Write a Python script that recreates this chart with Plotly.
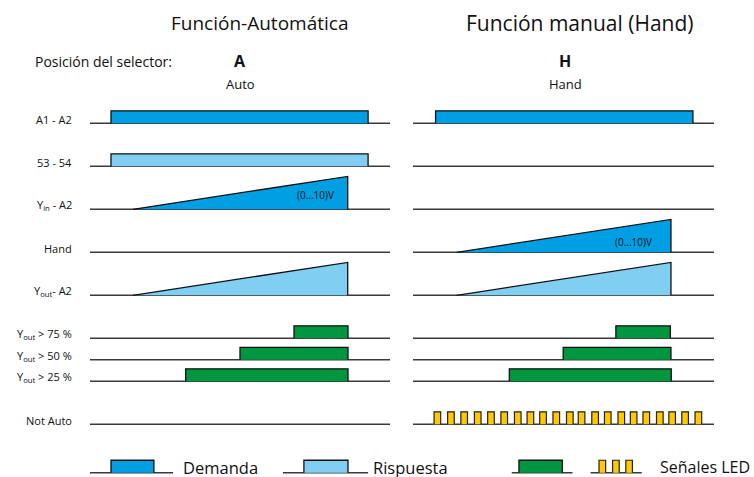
import plotly.graph_objects as go

# ---------------- data ----------------
row_labels = ["A1 - A2", "53 - 54", "Y<sub>in</sub> - A2", "Hand", "Y<sub>out</sub>- A2",
              "Y<sub>out</sub> > 75 %", "Y<sub>out</sub> > 50 %", "Y<sub>out</sub> > 25 %", "Not Auto"]
row_slots = [0, 2, 4, 6, 8, 10, 11, 12, 14]

# Auto panel (time axis 0..100)
auto_demand = [7.0, 92.7]            # A1 - A2 on / off
auto_response = [7.0, 92.7]          # 53 - 54 on / off
auto_yin_ramp = [14.3, 85.9]         # Y_in ramp start / end (0..10 V)
auto_yout_ramp = [14.3, 85.9]        # Y_out ramp start / end
auto_thr_on = [68.0, 50.0, 31.9]     # Y_out > 75 %, > 50 %, > 25 %
auto_thr_off = [86.0, 86.0, 86.0]

# Hand panel (time axis 0..100)
hand_demand = [7.5, 93.0]
hand_hand_ramp = [14.5, 85.7]
hand_yout_ramp = [14.5, 85.7]
hand_thr_on = [67.4, 49.9, 32.0]
hand_thr_off = [85.5, 85.7, 85.8]
led_starts = [7.0, 11.5, 15.9, 20.4, 24.8, 29.2, 33.7, 37.9, 42.1, 46.5, 51.0,
              54.9, 59.4, 63.6, 68.1, 72.2, 76.4, 80.9, 85.0, 89.3, 93.7]
led_width = 2.2
ramp_volts = [0, 10]

# legend samples (time units on each panel)
legend_demand = [7.0, 21.3]
legend_response = [71.3, 86.0]
legend_green = [35.2, 49.6]
legend_led = [61.8, 66.3, 70.7]

# ---------------- styles ----------------
C_DEMAND = "#009FE3"
C_RESP = "#80CFF3"
C_GREEN = "#009640"
C_LED = "#FFC800"
C_BASE = "#3a3a3a"
HIGH = 0.58        # digital high level (row units)
VSCALE = 0.153     # row units per volt
LEG_ROW = 16.25
FONT = "Open Sans"

fig = go.Figure()


def baseline(k, xa, x0=0, x1=100):
    fig.add_trace(go.Scatter(x=[x0, x1], y=[k, k], mode="lines", xaxis=xa, yaxis="y",
                             line=dict(color=C_BASE, width=1.6), hoverinfo="skip"))


def pulse(k, t0, t1, color, xa, h=HIGH):
    fig.add_trace(go.Scatter(x=[t0, t0, t1, t1], y=[k, k - h, k - h, k], mode="lines",
                             fill="toself", fillcolor=color, xaxis=xa, yaxis="y",
                             line=dict(color="#111111", width=1.3), hoverinfo="skip"))


def ramp(k, t0, t1, color, xa):
    top = k - ramp_volts[1] * VSCALE
    fig.add_trace(go.Scatter(x=[t0, t1, t1], y=[k - ramp_volts[0] * VSCALE, top, k],
                             mode="lines", fill="toself", fillcolor=color, xaxis=xa, yaxis="y",
                             line=dict(color="#111111", width=1.3), hoverinfo="skip"))


def pulse_train(k, starts, w, color, xa):
    xs, ys = [], []
    for s in starts:
        xs += [s, s, s + w, s + w, None]
        ys += [k, k - HIGH, k - HIGH, k, None]
    fig.add_trace(go.Scatter(x=xs, y=ys, mode="lines", fill="toself", fillcolor=color,
                             xaxis=xa, yaxis="y", line=dict(color="#222222", width=1.2),
                             hoverinfo="skip"))


# baselines
for k in row_slots:
    baseline(k, "x")
    baseline(k, "x2")

# Auto panel
pulse(row_slots[0], *auto_demand, C_DEMAND, "x")
pulse(row_slots[1], *auto_response, C_RESP, "x")
ramp(row_slots[2], *auto_yin_ramp, C_DEMAND, "x")
ramp(row_slots[4], *auto_yout_ramp, C_RESP, "x")
for i in range(3):
    pulse(row_slots[5 + i], auto_thr_on[i], auto_thr_off[i], C_GREEN, "x")

# Hand panel
pulse(row_slots[0], *hand_demand, C_DEMAND, "x2")
ramp(row_slots[3], *hand_hand_ramp, C_DEMAND, "x2")
ramp(row_slots[4], *hand_yout_ramp, C_RESP, "x2")
for i in range(3):
    pulse(row_slots[5 + i], hand_thr_on[i], hand_thr_off[i], C_GREEN, "x2")
pulse_train(row_slots[8], led_starts, led_width, C_LED, "x2")

# legend samples
baseline(LEG_ROW, "x", 0, 27.7)
pulse(LEG_ROW, *legend_demand, C_DEMAND, "x")
baseline(LEG_ROW, "x", 64.3, 92.7)
pulse(LEG_ROW, *legend_response, C_RESP, "x")
baseline(LEG_ROW, "x2", 32.8, 53.0)
pulse(LEG_ROW, *legend_green, C_GREEN, "x2")
baseline(LEG_ROW, "x2", 59.0, 76.0)
pulse_train(LEG_ROW, legend_led, led_width, C_LED, "x2")


def txt(text, x, y, size, xref="paper", yref="paper", xanchor="center"):
    return dict(text=text, xref=xref, yref=yref, x=x, y=y, xanchor=xanchor, yanchor="middle",
                showarrow=False, font=dict(family=FONT, size=size, color="#111"))


ann = []
for lab, k in zip(row_labels, row_slots):
    ann.append(txt(lab, 74 / 754, k - 0.2, 11, yref="y", xanchor="right"))

ann += [
    txt("Función-Automática", 259 / 754, 1 - 23 / 477, 19),
    txt("Función manual (Hand)", 579 / 754, 1 - 23 / 477, 21),
    txt("Posición del selector:", 33 / 754, 1 - 61 / 477, 14, xanchor="left"),
    txt("<b>A</b>", 240 / 754, 1 - 61 / 477, 16),
    txt("Auto", 240 / 754, 1 - 84 / 477, 13),
    txt("<b>H</b>", 565 / 754, 1 - 61 / 477, 16),
    txt("Hand", 565 / 754, 1 - 84 / 477, 13),
    txt("(0...10)V", 75.3, row_slots[2] - 0.67, 10, xref="x", yref="y"),
    txt("(0...10)V", 73.4, row_slots[3] - 0.5, 10, xref="x2", yref="y"),
    txt("Demanda", 30.3, LEG_ROW - 0.25, 16.5, xref="x", yref="y", xanchor="left"),
    txt("Rispuesta", 93.6, LEG_ROW - 0.25, 16.5, xref="x", yref="y", xanchor="left"),
    txt("Señales LED", 81.3, LEG_ROW - 0.25, 16, xref="x2", yref="y", xanchor="left"),
]

ax_common = dict(range=[0, 100], visible=False, showgrid=False, zeroline=False, fixedrange=True)
fig.update_layout(
    width=754, height=477,
    margin=dict(l=0, r=0, t=0, b=0),
    paper_bgcolor="white", plot_bgcolor="white",
    showlegend=False,
    xaxis=dict(domain=[90 / 754, 390 / 754], **ax_common),
    xaxis2=dict(domain=[413 / 754, 714 / 754], **ax_common),
    yaxis=dict(domain=[0, 1], range=[16.45, -5.735], visible=False, showgrid=False,
               zeroline=False, fixedrange=True),
    annotations=ann,
)

fig.write_html("out.html", config={"displayModeBar": False},
               post_script="document.body.style.margin='0';document.body.style.overflow='hidden';")
